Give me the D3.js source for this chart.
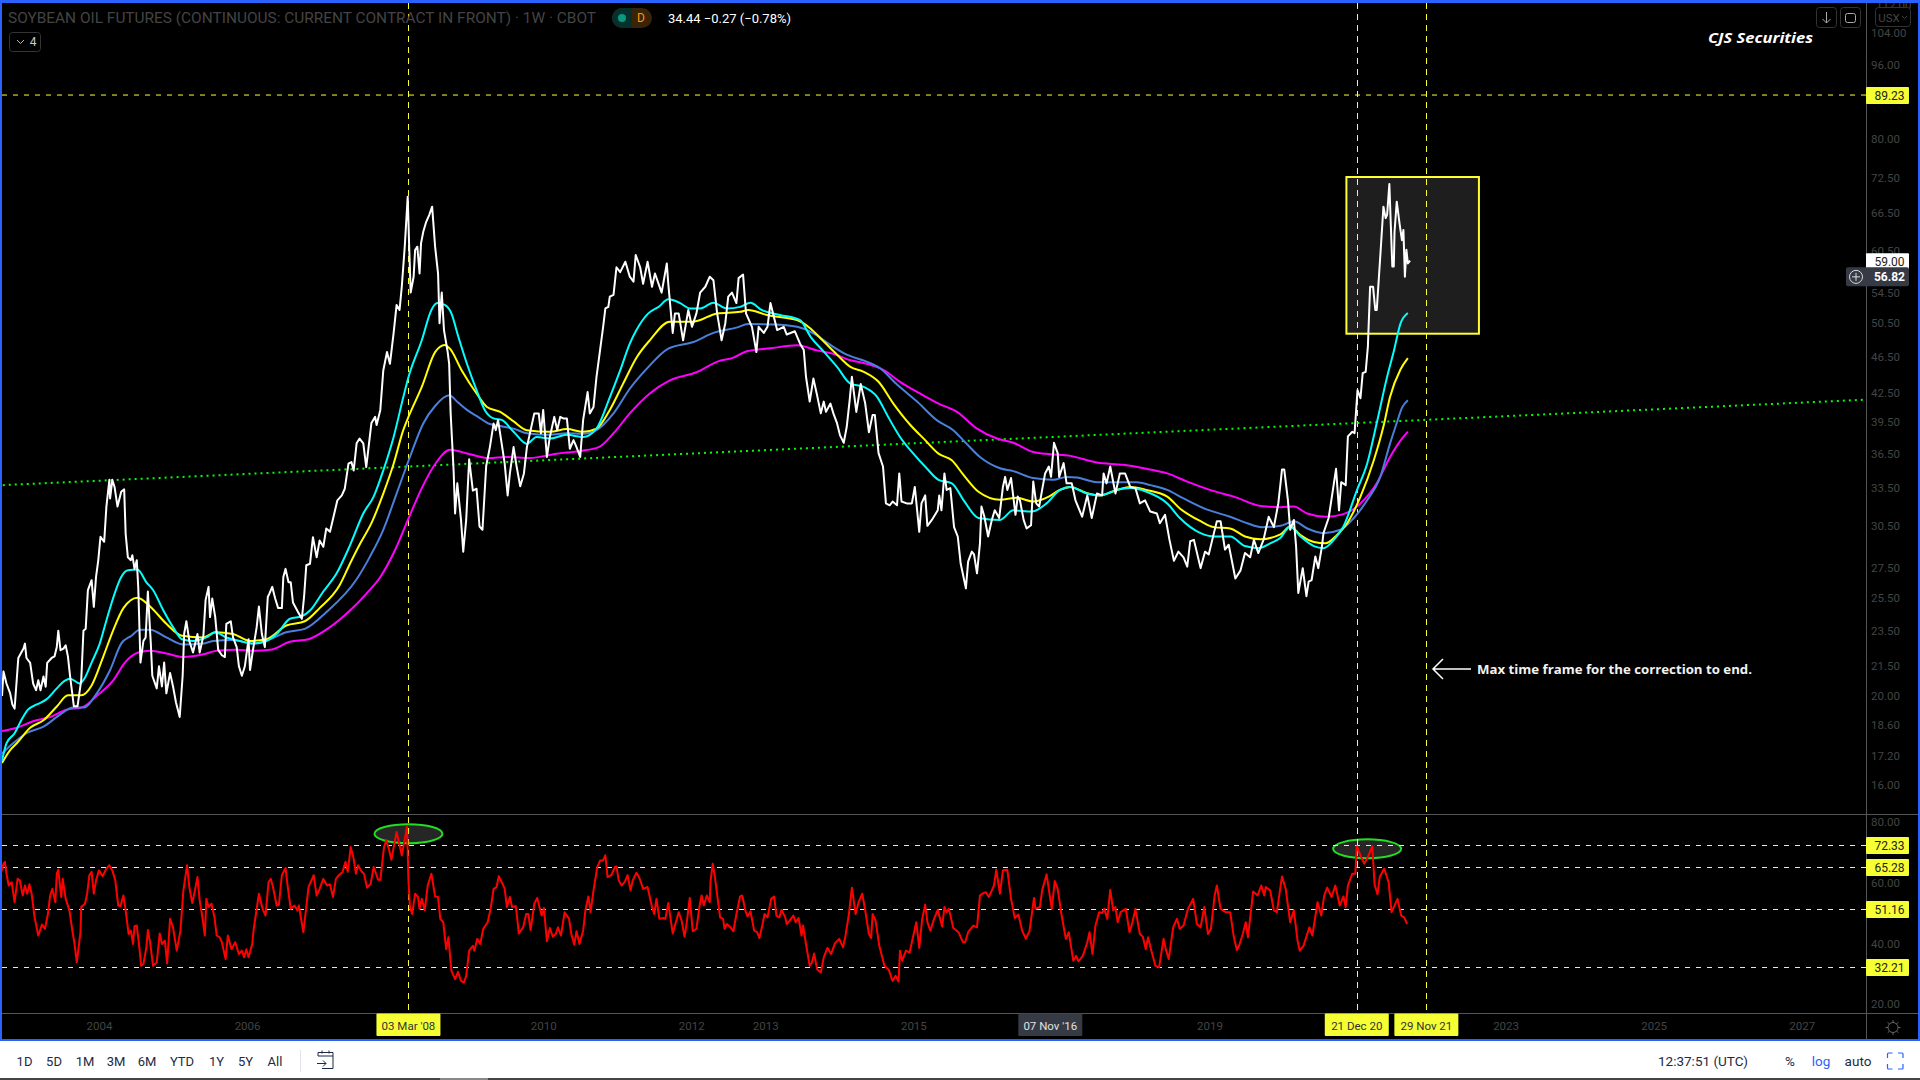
<!DOCTYPE html>
<html>
<head>
<meta charset="utf-8">
<script src="https://cdn.jsdelivr.net/npm/d3@7"></script>
<style>
  html, body { margin: 0; padding: 0; background: #000; overflow: hidden; }
  svg { display: block; }
  text { font-family: Roboto, sans-serif; }
</style>
</head>
<body>
<div id="chart"></div>
<script>
// [year, price] read from the weekly close
const closeSeries = [[2002.69,19.97],[2002.71,21.23],[2002.75,20.6],[2002.8,20.1],[2002.83,19.55],[2002.86,19.35],[2002.91,21.95],[2002.98,22.47],[2003,22.75],[2003.02,21.95],[2003.07,21.68],[2003.11,20.6],[2003.15,20.26],[2003.18,20.77],[2003.21,20.26],[2003.25,20.96],[2003.28,20.43],[2003.3,21.68],[2003.36,21.95],[2003.4,22.04],[2003.43,22.56],[2003.45,23.49],[2003.48,22.38],[2003.52,22.47],[2003.55,22.65],[2003.58,22.04],[2003.61,20.96],[2003.66,19.47],[2003.71,19.47],[2003.76,20.77],[2003.79,23.49],[2003.82,23.6],[2003.85,25.99],[2003.9,26.64],[2003.93,24.93],[2003.96,26.86],[2003.99,27.99],[2004.02,29.68],[2004.07,29.31],[2004.1,32],[2004.14,34.2],[2004.15,32.65],[2004.18,34.2],[2004.21,33.6],[2004.25,32],[2004.3,33.2],[2004.34,33.4],[2004.36,29.9],[2004.39,28.2],[2004.43,28],[2004.45,28.35],[2004.48,27.4],[2004.51,28],[2004.53,26.2],[2004.56,21.7],[2004.6,22.9],[2004.63,23.1],[2004.66,25.9],[2004.7,22.75],[2004.72,21],[2004.78,20.35],[2004.81,21.5],[2004.85,20.45],[2004.88,21.7],[2004.91,20.1],[2004.96,21.15],[2005,20.45],[2005.04,19.65],[2005.09,18.95],[2005.13,21],[2005.15,23.3],[2005.18,24.05],[2005.22,22.9],[2005.27,22.25],[2005.33,23.3],[2005.36,22.25],[2005.41,23.2],[2005.44,25.35],[2005.48,26.2],[2005.5,24.3],[2005.53,25.45],[2005.57,24.3],[2005.61,22.4],[2005.66,22.1],[2005.7,22],[2005.72,23.9],[2005.78,24.05],[2005.81,23.1],[2005.86,22.55],[2005.89,21.5],[2005.93,21],[2005.97,21.5],[2006.02,23],[2006.04,21.3],[2006.08,22.4],[2006.13,23.7],[2006.16,24.95],[2006.2,23.3],[2006.24,22.55],[2006.28,25.55],[2006.3,25.75],[2006.34,26.2],[2006.38,25.45],[2006.42,24.85],[2006.47,24.85],[2006.49,26.85],[2006.52,27.4],[2006.56,26.5],[2006.59,26.5],[2006.62,25.2],[2006.69,24.6],[2006.74,24.2],[2006.77,25.55],[2006.8,27.65],[2006.85,27.75],[2006.89,29.65],[2006.94,28.2],[2006.98,29.4],[2007.03,28.95],[2007.07,30.3],[2007.12,30.05],[2007.16,31],[2007.22,32.5],[2007.28,32.9],[2007.32,33.45],[2007.37,35.6],[2007.41,35.75],[2007.44,35],[2007.48,37.45],[2007.52,37.9],[2007.57,37.45],[2007.61,35.3],[2007.68,39.4],[2007.73,40],[2007.75,39.2],[2007.8,40.7],[2007.84,44.9],[2007.89,47],[2007.93,45.65],[2007.98,49.3],[2008.02,52.85],[2008.06,52.2],[2008.09,55.3],[2008.13,61.1],[2008.17,69.2],[2008.19,61.1],[2008.21,54.5],[2008.25,56.7],[2008.27,60.6],[2008.3,61.1],[2008.33,57.15],[2008.35,61.6],[2008.38,63.4],[2008.42,65],[2008.46,66.1],[2008.5,67.5],[2008.54,61.1],[2008.58,57.15],[2008.6,50.5],[2008.63,54.5],[2008.66,49.65],[2008.71,47],[2008.73,45.65],[2008.75,40.35],[2008.79,35],[2008.81,31.45],[2008.84,33.9],[2008.89,30.95],[2008.92,28.6],[2008.96,30.95],[2009,36],[2009.05,33.3],[2009.1,33.45],[2009.14,30.45],[2009.18,30.2],[2009.23,35.4],[2009.28,37.1],[2009.33,39.35],[2009.36,38.7],[2009.39,39.7],[2009.44,37.4],[2009.48,35.6],[2009.52,32.9],[2009.55,34.75],[2009.6,37.1],[2009.64,35.4],[2009.69,33.65],[2009.74,34.75],[2009.78,37.1],[2009.85,39.35],[2009.88,40.35],[2009.94,40.35],[2009.97,38.4],[2010,40.7],[2010.05,36.2],[2010.09,38.05],[2010.15,40],[2010.19,38.7],[2010.23,40],[2010.27,39.85],[2010.32,39.85],[2010.36,36.95],[2010.41,37.75],[2010.45,37.1],[2010.5,36.2],[2010.54,39.7],[2010.6,42.55],[2010.63,40.35],[2010.68,41],[2010.72,44.15],[2010.78,48],[2010.81,50.05],[2010.84,52.4],[2010.88,52.6],[2010.9,53.95],[2010.95,54.2],[2010.99,58.05],[2011.04,57.35],[2011.11,58.85],[2011.17,56.7],[2011.22,56],[2011.25,59.85],[2011.31,58.05],[2011.35,55.7],[2011.41,58.85],[2011.47,55.3],[2011.51,57.15],[2011.6,54.5],[2011.67,58.6],[2011.69,55.7],[2011.75,49.3],[2011.78,51.75],[2011.83,51.75],[2011.89,48.4],[2011.96,52.2],[2012.01,50.05],[2012.07,51.75],[2012.12,54.5],[2012.19,55.3],[2012.25,56.7],[2012.3,56.2],[2012.35,51.75],[2012.41,48.4],[2012.46,50.5],[2012.5,53.95],[2012.55,54.5],[2012.61,53.1],[2012.64,56.5],[2012.7,57],[2012.74,51.75],[2012.82,50.05],[2012.88,47],[2012.91,50.05],[2012.98,49.3],[2013.03,50.05],[2013.07,53.1],[2013.16,49.65],[2013.25,50.05],[2013.29,49.1],[2013.4,49.5],[2013.47,48],[2013.52,47.25],[2013.55,44.2],[2013.6,41.55],[2013.65,44],[2013.7,42.2],[2013.75,40.35],[2013.79,41.55],[2013.82,40.5],[2013.88,41.35],[2013.92,40.35],[2013.97,39.35],[2014.01,38.2],[2014.06,37.5],[2014.1,39],[2014.14,41.7],[2014.17,44.2],[2014.23,40.5],[2014.29,43.4],[2014.35,41.35],[2014.4,38.5],[2014.45,40.2],[2014.48,40.2],[2014.53,36.55],[2014.59,35.35],[2014.63,32.25],[2014.68,32.1],[2014.72,32.4],[2014.78,32.1],[2014.81,34.75],[2014.84,32.4],[2014.91,32.25],[2014.98,32.25],[2015.02,33.6],[2015.08,30.05],[2015.11,32.25],[2015.16,32.9],[2015.19,30.5],[2015.25,30.95],[2015.33,31.7],[2015.35,32.9],[2015.38,31.7],[2015.42,34.75],[2015.45,33.35],[2015.5,33.5],[2015.55,30.4],[2015.6,29.7],[2015.64,27.75],[2015.71,26.1],[2015.74,27.9],[2015.79,28.6],[2015.82,28.4],[2015.86,27.1],[2015.9,29.2],[2015.92,32],[2015.96,31.2],[2016.01,29.7],[2016.06,30.95],[2016.1,31.7],[2016.16,31.1],[2016.21,33.6],[2016.24,34.45],[2016.27,33.35],[2016.32,34.35],[2016.38,31.35],[2016.41,32.8],[2016.44,32.5],[2016.49,30.95],[2016.53,30.3],[2016.59,30.55],[2016.62,34.05],[2016.66,32.25],[2016.7,32],[2016.74,33.35],[2016.78,34.75],[2016.83,35.35],[2016.86,34.45],[2016.9,37.5],[2016.95,36.55],[2016.97,34.45],[2017.03,35.65],[2017.07,33.9],[2017.14,33.9],[2017.19,32.5],[2017.28,31.2],[2017.35,32.9],[2017.41,31.1],[2017.48,33.05],[2017.55,32.9],[2017.57,34.75],[2017.61,33.9],[2017.66,35.35],[2017.73,33.05],[2017.79,34.75],[2017.86,34.75],[2017.93,33.6],[2018,33.5],[2018.06,32.25],[2018.13,32.5],[2018.2,31.6],[2018.29,31.45],[2018.33,30.7],[2018.4,31.35],[2018.46,29.45],[2018.52,27.95],[2018.58,28.6],[2018.65,28.2],[2018.7,27.55],[2018.74,29.35],[2018.79,29.45],[2018.88,27.45],[2018.94,28.6],[2018.99,28.4],[2019.06,29.95],[2019.1,30.85],[2019.15,30.85],[2019.21,28.75],[2019.26,29.1],[2019.35,26.75],[2019.42,27.3],[2019.48,28.5],[2019.55,28.2],[2019.6,29.45],[2019.66,28.5],[2019.73,29.45],[2019.8,31.2],[2019.87,30.4],[2019.93,32.25],[2019.96,33.9],[2019.98,35.1],[2020.01,35.1],[2020.06,32.5],[2020.09,30.2],[2020.14,30.95],[2020.17,29],[2020.2,25.8],[2020.26,27.45],[2020.31,25.6],[2020.34,26.55],[2020.38,26.65],[2020.43,28.25],[2020.47,27.45],[2020.52,29],[2020.54,29.95],[2020.61,31.1],[2020.66,33.05],[2020.71,35.15],[2020.75,31.7],[2020.78,34],[2020.84,33.75],[2020.87,38.1],[2020.93,38.55],[2020.96,38.4],[2021,42.75],[2021.04,41.9],[2021.07,44.6],[2021.11,44.75],[2021.14,47.65],[2021.17,55.3],[2021.21,55.3],[2021.24,52.2],[2021.26,52.2],[2021.31,60.1],[2021.35,67.5],[2021.38,65.6],[2021.4,66.15],[2021.43,71.4],[2021.47,58.15],[2021.49,58.15],[2021.5,63.4],[2021.53,68.35],[2021.57,64.5],[2021.6,62.1],[2021.62,63.7],[2021.64,56.7],[2021.66,60.65],[2021.68,58.6],[2021.71,59]];

const cyanAverage = [[2002.69,17],[2002.75,17.75],[2002.86,18.2],[2002.95,18.8],[2003.04,19.3],[2003.16,19.55],[2003.29,19.8],[2003.43,20.35],[2003.54,20.75],[2003.61,20.85],[2003.74,20.6],[2003.81,20.9],[2003.9,21.7],[2004.01,22.75],[2004.1,24.1],[2004.21,25.75],[2004.3,26.85],[2004.39,27.3],[2004.52,27.35],[2004.64,26.5],[2004.73,26],[2004.87,24.7],[2005,23.7],[2005.12,23],[2005.27,22.9],[2005.45,23.1],[2005.57,23.4],[2005.72,23.1],[2005.9,22.9],[2006.08,22.75],[2006.26,22.9],[2006.4,23.3],[2006.58,24.2],[2006.74,24.35],[2006.85,24.7],[2007.03,25.9],[2007.21,27.1],[2007.39,29.05],[2007.57,31.45],[2007.71,32.8],[2007.84,35],[2007.98,38.05],[2008.11,42],[2008.18,44.15],[2008.36,48.4],[2008.49,52.2],[2008.57,53.1],[2008.67,52.85],[2008.76,51.75],[2008.85,48.95],[2008.97,45.65],[2009.1,42.75],[2009.21,40.7],[2009.33,39.85],[2009.44,39.7],[2009.6,38.55],[2009.78,37.4],[2009.91,38.05],[2010.09,37.9],[2010.32,38.25],[2010.54,38.05],[2010.72,38.85],[2010.9,42],[2011.04,44.9],[2011.17,48],[2011.26,49.65],[2011.42,51.75],[2011.56,52.6],[2011.69,53.6],[2011.85,53.1],[2011.98,52.4],[2012.12,52.4],[2012.3,53.15],[2012.48,52.4],[2012.66,52.6],[2012.8,53.15],[2012.95,52.2],[2013.2,51.55],[2013.47,50.9],[2013.61,48.85],[2013.79,47.05],[2013.97,45.3],[2014.15,43.45],[2014.33,43.1],[2014.51,42.05],[2014.66,40],[2014.82,38.05],[2015,36.5],[2015.18,35.2],[2015.34,34.2],[2015.52,33.9],[2015.68,32.5],[2015.88,31.1],[2016.17,30.95],[2016.35,31.7],[2016.6,31.6],[2016.8,32.25],[2016.98,33.35],[2017.12,33.6],[2017.34,33.05],[2017.52,32.9],[2017.75,33.35],[2017.93,33.5],[2018.15,33.2],[2018.43,32.25],[2018.6,31.1],[2018.88,29.95],[2019.06,29.7],[2019.28,29.7],[2019.48,29],[2019.66,28.85],[2019.82,29.2],[2019.96,29.6],[2020.09,30.45],[2020.23,29.7],[2020.41,29],[2020.54,28.85],[2020.68,29.45],[2020.81,30.45],[2020.99,33.3],[2021.13,35.6],[2021.26,39.4],[2021.4,44.2],[2021.49,47.1],[2021.58,50.45],[2021.68,51.8]];

const yellowAverage = [[2002.69,16.9],[2002.8,17.45],[2002.89,17.75],[2003.07,18.45],[2003.25,18.8],[2003.43,19.45],[2003.58,20],[2003.76,20],[2003.9,20.5],[2004.06,22.05],[2004.19,23.5],[2004.33,24.85],[2004.52,25.5],[2004.69,24.95],[2004.91,23.9],[2005.12,23.2],[2005.41,23.1],[2005.57,23.4],[2005.81,23.3],[2006.04,22.9],[2006.26,23],[2006.53,23.8],[2006.78,24.05],[2006.98,24.85],[2007.25,26.3],[2007.39,27.75],[2007.53,29.2],[2007.68,30.7],[2007.84,33.05],[2007.98,35.6],[2008.11,38.7],[2008.18,40],[2008.36,43.1],[2008.54,47],[2008.67,47.85],[2008.74,47.4],[2008.9,44.9],[2009.1,42.4],[2009.24,41],[2009.42,40.5],[2009.6,39.55],[2009.78,38.7],[2010.09,38.55],[2010.32,38.8],[2010.54,38.55],[2010.72,38.85],[2010.9,40.7],[2011.08,43.45],[2011.26,46.35],[2011.44,48.4],[2011.71,50.7],[2012.03,50.7],[2012.35,51.75],[2012.66,51.95],[2012.77,52.2],[2013.02,51.55],[2013.43,50.9],[2013.61,49.85],[2013.79,48.25],[2013.97,46.7],[2014.15,45.3],[2014.33,44.75],[2014.53,43.65],[2014.73,41.35],[2014.96,39.2],[2015.16,37.75],[2015.34,36.5],[2015.52,35.9],[2015.68,34.6],[2015.88,33.2],[2016.17,32.55],[2016.4,32.7],[2016.62,32.4],[2016.83,32.8],[2016.98,33.35],[2017.12,33.6],[2017.34,33.1],[2017.52,32.9],[2017.75,33.35],[2017.93,33.6],[2018.15,33.35],[2018.43,32.8],[2018.6,31.85],[2018.88,30.85],[2019.06,30.4],[2019.28,30.3],[2019.48,29.7],[2019.69,29.5],[2019.96,29.85],[2020.09,30.45],[2020.23,29.8],[2020.41,29.3],[2020.57,29.2],[2020.72,29.8],[2020.86,30.7],[2021.04,32.8],[2021.22,35.9],[2021.35,39.05],[2021.44,42.05],[2021.58,45],[2021.68,46.3]];

const blueAverage = [[2002.69,17.3],[2002.84,17.75],[2003.02,18.2],[2003.25,18.5],[2003.47,19.05],[2003.65,19.4],[2003.79,19.4],[2003.97,20.1],[2004.15,21.3],[2004.3,22.75],[2004.44,23.2],[2004.55,23.55],[2004.69,23.55],[2004.91,23.1],[2005.14,22.7],[2005.41,22.75],[2005.54,22.9],[2005.81,22.95],[2006.08,22.75],[2006.31,23],[2006.53,23.4],[2006.78,23.6],[2007.07,24.6],[2007.48,26.7],[2007.66,28.25],[2007.84,30.2],[2008.02,33.05],[2008.2,36.2],[2008.38,39.35],[2008.54,41.1],[2008.73,42.2],[2008.85,41.45],[2008.97,40.7],[2009.12,40],[2009.26,39.35],[2009.42,39.1],[2009.6,38.85],[2009.78,38.4],[2010.09,38.25],[2010.32,38.4],[2010.54,38.35],[2010.72,38.7],[2010.95,40.35],[2011.17,42.9],[2011.4,45.1],[2011.69,47.4],[2012.03,48.2],[2012.3,49.3],[2012.61,49.95],[2012.77,50.4],[2013.11,50.35],[2013.43,50.05],[2013.65,49.25],[2013.88,47.85],[2014.1,46.7],[2014.37,45.9],[2014.55,45.15],[2014.78,43.35],[2015.05,41.55],[2015.32,39.65],[2015.54,38.7],[2015.72,37.4],[2015.9,36.2],[2016.17,35.2],[2016.35,34.95],[2016.62,34.35],[2016.89,34.2],[2017.07,34.45],[2017.21,34.4],[2017.48,34],[2017.75,34],[2018.02,34],[2018.2,33.75],[2018.43,33.35],[2018.65,32.65],[2018.97,31.75],[2019.28,31.2],[2019.51,30.7],[2019.71,30.4],[2019.96,30.5],[2020.14,30.85],[2020.32,30.3],[2020.54,29.95],[2020.77,30.2],[2020.95,31.1],[2021.13,32.5],[2021.31,34.5],[2021.44,37.45],[2021.53,39.4],[2021.6,40.9],[2021.68,41.7]];

const magentaAverage = [[2002.69,18.3],[2002.89,18.45],[2003.11,18.75],[2003.34,18.95],[2003.56,19.3],[2003.76,19.4],[2004.01,20.1],[2004.19,20.75],[2004.35,21.7],[2004.53,22.25],[2004.69,22.35],[2004.91,22.2],[2005.14,22],[2005.41,22.15],[2005.59,22.35],[2005.86,22.4],[2006.08,22.35],[2006.31,22.4],[2006.58,22.85],[2006.83,23],[2007.12,23.7],[2007.39,24.7],[2007.61,25.75],[2007.8,26.85],[2007.98,28.5],[2008.18,31.05],[2008.36,33.5],[2008.56,35.75],[2008.74,36.85],[2009.01,36.45],[2009.26,36.1],[2009.51,36.2],[2009.82,36.1],[2010.18,36.5],[2010.5,36.75],[2010.75,37.1],[2010.95,38.4],[2011.17,40.35],[2011.44,42.4],[2011.71,43.8],[2012.07,44.7],[2012.37,45.95],[2012.57,46.35],[2012.75,47.1],[2013.07,47.45],[2013.43,47.8],[2013.7,47.2],[2013.92,46.8],[2014.15,46.05],[2014.37,45.65],[2014.6,44.95],[2014.82,43.65],[2015.09,42.4],[2015.34,41.35],[2015.59,40.5],[2015.86,38.85],[2016.13,37.9],[2016.35,37.5],[2016.62,36.65],[2016.85,36.45],[2017.12,36.3],[2017.48,35.7],[2017.84,35.5],[2018.15,35.15],[2018.43,34.75],[2018.7,34.05],[2019.06,33.25],[2019.33,32.8],[2019.69,32.05],[2019.96,31.95],[2020.14,32],[2020.32,31.45],[2020.57,31.2],[2020.81,31.4],[2021.04,32.25],[2021.26,33.9],[2021.44,36.2],[2021.58,37.7],[2021.68,38.55]];

const rsiSeries = [[2002.68,63.6],[2002.71,66.3],[2002.73,66.9],[2002.75,63],[2002.78,59.1],[2002.82,60.2],[2002.86,53.6],[2002.9,61.3],[2002.93,60.8],[2002.97,55.8],[2003,59.1],[2003.03,56.4],[2003.06,59.5],[2003.09,56.4],[2003.13,48.6],[2003.18,42.6],[2003.23,46.2],[2003.27,44.8],[2003.31,49.7],[2003.34,55.8],[2003.37,58],[2003.41,53.6],[2003.43,63],[2003.45,64.3],[2003.49,55.3],[2003.51,61.3],[2003.55,54.7],[2003.6,50.9],[2003.64,44.2],[2003.67,39.8],[2003.7,33.7],[2003.75,43.7],[2003.76,52],[2003.81,53.1],[2003.84,56.4],[2003.87,62.5],[2003.9,63.6],[2003.93,56.4],[2003.96,60.8],[2004,64.1],[2004.05,62.2],[2004.1,64.7],[2004.14,65.8],[2004.18,64.1],[2004.22,60.8],[2004.26,52.5],[2004.29,52.3],[2004.33,55.8],[2004.36,50.9],[2004.4,43.1],[2004.43,44.2],[2004.46,39.8],[2004.48,45.7],[2004.51,45.9],[2004.54,39.8],[2004.57,32.6],[2004.6,33.2],[2004.64,38.7],[2004.66,44.4],[2004.69,40.4],[2004.73,32.6],[2004.78,33.7],[2004.82,43.3],[2004.85,39.8],[2004.89,40.9],[2004.92,33.4],[2004.96,48.1],[2005,45.3],[2005.05,37.6],[2005.1,44.2],[2005.14,57.5],[2005.19,65.8],[2005.22,58.6],[2005.26,53.3],[2005.3,58],[2005.33,61.9],[2005.36,54.2],[2005.39,49.7],[2005.43,42.6],[2005.45,54.7],[2005.48,52],[2005.52,53.1],[2005.56,48.6],[2005.59,42.6],[2005.63,42],[2005.66,40.4],[2005.71,34.8],[2005.74,42.6],[2005.79,38.1],[2005.84,40.4],[2005.89,36.5],[2005.93,37.6],[2005.96,35.4],[2005.99,38.1],[2006.02,35.4],[2006.07,39.8],[2006.09,44.8],[2006.12,49.7],[2006.16,56.4],[2006.21,51.4],[2006.25,49.2],[2006.29,60.2],[2006.32,61.3],[2006.35,58.6],[2006.4,52.5],[2006.43,52.7],[2006.47,62.5],[2006.52,64.9],[2006.55,58.6],[2006.59,51.4],[2006.64,52.5],[2006.68,50.9],[2006.7,52.5],[2006.76,43.7],[2006.8,52],[2006.83,58.6],[2006.9,62.5],[2006.94,55.8],[2006.98,58],[2007.03,61.3],[2007.08,59.1],[2007.12,59.5],[2007.16,55.3],[2007.2,61.3],[2007.24,62.5],[2007.29,63.6],[2007.33,66.9],[2007.36,63.6],[2007.4,71.8],[2007.44,68],[2007.47,63],[2007.5,65.8],[2007.55,63.6],[2007.58,63],[2007.62,58.4],[2007.67,59.7],[2007.71,65.2],[2007.77,61],[2007.8,61],[2007.85,71.8],[2007.88,74.1],[2007.92,70.7],[2007.95,67.6],[2007.99,73],[2008.02,76.8],[2008.06,72.4],[2008.09,69.1],[2008.12,73],[2008.16,78.5],[2008.18,60.8],[2008.2,52],[2008.23,49.7],[2008.27,56.4],[2008.31,55.3],[2008.33,51.4],[2008.36,54.7],[2008.4,50.9],[2008.44,59.1],[2008.49,63],[2008.54,55.5],[2008.58,55.3],[2008.61,48.1],[2008.65,47],[2008.69,38.1],[2008.72,42],[2008.76,31],[2008.81,28.2],[2008.85,30.6],[2008.89,27.6],[2008.93,27.1],[2008.96,29.3],[2009,37.6],[2009.05,39.2],[2009.07,37.6],[2009.11,41.5],[2009.15,39.8],[2009.19,44.8],[2009.25,47],[2009.29,51.4],[2009.33,58],[2009.37,58.6],[2009.4,62.2],[2009.45,59.7],[2009.48,58],[2009.51,52],[2009.55,55.3],[2009.58,52],[2009.63,52.3],[2009.66,45.9],[2009.67,43.3],[2009.73,45.3],[2009.77,49.7],[2009.8,49.7],[2009.83,44.4],[2009.88,53.1],[2009.92,55],[2009.95,52],[2009.98,49.2],[2010.01,51.7],[2010.05,40.7],[2010.09,45.1],[2010.13,42.2],[2010.17,43.1],[2010.2,45.3],[2010.24,42.6],[2010.29,50.3],[2010.35,48.1],[2010.38,43.1],[2010.42,39.6],[2010.45,44],[2010.49,39.8],[2010.54,44.2],[2010.57,50.9],[2010.61,55.5],[2010.64,50.3],[2010.68,57.5],[2010.73,65.2],[2010.77,67.4],[2010.81,67.4],[2010.84,69.1],[2010.87,61.9],[2010.92,62.5],[2010.97,65.2],[2010.99,65.4],[2011.02,60.8],[2011.06,59.1],[2011.1,60.2],[2011.14,62.5],[2011.18,57.5],[2011.21,60.8],[2011.26,63.3],[2011.3,61.6],[2011.35,58],[2011.41,58.6],[2011.47,52],[2011.5,49.7],[2011.53,54.7],[2011.57,48.1],[2011.62,48.4],[2011.65,48.1],[2011.69,53.3],[2011.75,43.3],[2011.78,45.9],[2011.83,50.3],[2011.87,47.5],[2011.91,42.2],[2011.94,47],[2011.98,55],[2012.02,44],[2012.07,44.8],[2012.11,52],[2012.14,55.8],[2012.17,52.5],[2012.21,55.8],[2012.25,53.6],[2012.26,60.2],[2012.29,66.3],[2012.32,61.9],[2012.36,54.2],[2012.39,48.6],[2012.43,48.1],[2012.45,44.8],[2012.48,46.4],[2012.53,45.3],[2012.57,44],[2012.61,49.7],[2012.66,55.5],[2012.69,55.8],[2012.73,50.9],[2012.76,48.9],[2012.8,50.6],[2012.85,44.2],[2012.89,43.7],[2012.92,41.8],[2012.96,45.9],[2012.99,49.7],[2013.03,48.6],[2013.08,54.7],[2013.12,55.5],[2013.15,49.2],[2013.19,48.6],[2013.22,51.1],[2013.27,48.6],[2013.29,46.4],[2013.33,47.5],[2013.38,49.2],[2013.41,47],[2013.45,48.4],[2013.49,42.6],[2013.51,45.9],[2013.55,39.8],[2013.6,32.6],[2013.63,33.7],[2013.66,36.7],[2013.7,31.5],[2013.75,30.4],[2013.79,35.4],[2013.84,38.5],[2013.89,36.5],[2013.94,40],[2014,41.5],[2014.05,38.7],[2014.08,42],[2014.13,49.7],[2014.17,58.4],[2014.22,49.7],[2014.26,53.6],[2014.31,56.4],[2014.35,50.9],[2014.4,43.1],[2014.43,41.8],[2014.45,49.7],[2014.49,47.5],[2014.54,39.2],[2014.61,32.6],[2014.67,31.2],[2014.72,27.6],[2014.76,29.3],[2014.8,27.4],[2014.82,37.6],[2014.85,34.3],[2014.9,37.6],[2014.95,37],[2014.99,41.5],[2015.04,47],[2015.08,38.5],[2015.12,48.1],[2015.16,52.8],[2015.19,47],[2015.23,44.2],[2015.28,48.1],[2015.33,51.1],[2015.39,45.5],[2015.42,52],[2015.45,50.3],[2015.48,51.4],[2015.54,45.1],[2015.61,43.7],[2015.67,40.4],[2015.7,40.4],[2015.74,43.7],[2015.81,45.9],[2015.86,45.3],[2015.9,55.8],[2015.93,56.4],[2015.98,56.9],[2016.02,55.3],[2016.09,59.1],[2016.12,64.3],[2016.17,56.4],[2016.21,64.1],[2016.27,64.3],[2016.32,54.7],[2016.37,48.4],[2016.42,49.5],[2016.47,44.2],[2016.52,41.5],[2016.57,44.2],[2016.63,55],[2016.65,51.4],[2016.71,52],[2016.74,57.5],[2016.8,62.8],[2016.87,51.4],[2016.91,60.6],[2016.95,58],[2017,49.7],[2017.06,41.5],[2017.1,43.7],[2017.16,34.3],[2017.2,35.9],[2017.23,34.1],[2017.29,35.9],[2017.35,40.4],[2017.38,43.7],[2017.42,36.5],[2017.46,45.9],[2017.51,50.3],[2017.55,50],[2017.58,51.4],[2017.62,48.1],[2017.66,57.7],[2017.7,50.9],[2017.73,52],[2017.76,47],[2017.8,50.3],[2017.87,51.4],[2017.92,43.7],[2017.96,47],[2018,51.4],[2018.06,43.1],[2018.1,42.2],[2018.14,38.1],[2018.17,42],[2018.21,38.1],[2018.27,32.6],[2018.32,32.1],[2018.38,41.5],[2018.41,38.1],[2018.45,34.8],[2018.51,45.3],[2018.56,48.1],[2018.6,44.8],[2018.65,45.9],[2018.71,51.4],[2018.78,54.7],[2018.83,46.4],[2018.88,45.3],[2018.93,52],[2018.98,43.1],[2019.02,44.8],[2019.07,55.8],[2019.1,59.1],[2019.15,51.4],[2019.22,50.3],[2019.28,50.3],[2019.33,42],[2019.37,37.8],[2019.4,39.2],[2019.45,43.1],[2019.49,47],[2019.52,42],[2019.59,57.1],[2019.65,55.8],[2019.7,59.1],[2019.74,55.8],[2019.76,58.6],[2019.82,57.5],[2019.87,50.9],[2019.91,50.3],[2019.98,62.1],[2020.03,58],[2020.09,47],[2020.14,50.9],[2020.19,40.9],[2020.22,37.6],[2020.27,39.2],[2020.35,45.3],[2020.39,42.6],[2020.46,53.6],[2020.51,49.2],[2020.55,55.8],[2020.59,58.4],[2020.65,55.3],[2020.7,59.1],[2020.76,52.5],[2020.81,55.5],[2020.84,52],[2020.87,59.1],[2020.93,63],[2020.97,63],[2020.99,72.1],[2021.05,68.5],[2021.09,66.3],[2021.14,68.5],[2021.2,72.1],[2021.23,59.5],[2021.27,56.2],[2021.3,61.9],[2021.36,64.7],[2021.42,60.2],[2021.46,50.3],[2021.54,54.7],[2021.59,49.2],[2021.63,48.6],[2021.67,46.4]];

const trendLine = [[2002.7, 33.75], [2027.86, 41.75]];
const priceLevel = 89.23;
const rsiLevels = [72.33, 65.28, 51.16, 32.21];
const eventYears = [2008.18, 2020.99, 2021.93];
const eventLabels = ["03 Mar '08", "21 Dec 20", "29 Nov 21"];
const cursorYear = 2016.85;
const cursorLabel = "07 Nov '16";
const priceTicks = [104, 96, 80, 72.5, 66.5, 60.5, 54.5, 50.5, 46.5, 42.5, 39.5, 36.5, 33.5, 30.5, 27.5, 25.5, 23.5, 21.5, 20, 18.6, 17.2, 16];
const rsiTicks = [80, 60, 40, 20];
const yearTicks = [2004, 2006, 2010, 2012, 2013, 2015, 2019, 2023, 2025, 2027];
const rangeButtons = ["1D", "5D", "1M", "3M", "6M", "YTD", "1Y", "5Y", "All"];
const rangeButtonX = [24.5, 54, 85, 116, 147, 182, 216.5, 245.5, 275];

const width = 1920, height = 1080;
const axisX = 1866, paneBottom = 814.5, timeAxisY = 1013.5, toolbarY = 1041;
const flagYellow = "#f5ff33", dashYellow = "#ffff33", axisText = "#444", frameBlue = "#2962ff";

const x = d3.scaleLinear().domain([2004, 2027]).range([99, 1801.7]);
const y = d3.scaleLog().domain([104, 16]).range([33, 785]);
const rsiY = d3.scaleLinear().domain([80, 20]).range([822.2, 1004]);

const svg = d3.select("#chart").append("svg").attr("width", width).attr("height", height);

svg.append("rect").attr("width", width).attr("height", height).attr("fill", "#000");

// correction window and the two RSI ellipses sit under the lines
svg.append("rect")
    .attr("x", x(2020.85)).attr("y", y(72.67))
    .attr("width", x(2022.64) - x(2020.85)).attr("height", y(49.2) - y(72.67))
    .attr("fill", "#1e1e1e").attr("stroke", dashYellow).attr("stroke-width", 2);

[[2008.18, 76.2], [2021.13, 71.2]].forEach(e => {
    svg.append("ellipse")
        .attr("cx", x(e[0])).attr("cy", rsiY(e[1]))
        .attr("rx", 34).attr("ry", 9.5)
        .attr("fill", "#262626").attr("stroke", "#22dd22").attr("stroke-width", 2);
});

// dashed levels
const levelRow = v => Math.round(rsiY(v) - 0.3) + 0.5;
svg.append("line")
    .attr("x1", 2).attr("x2", axisX).attr("y1", y(priceLevel) + 0.5).attr("y2", y(priceLevel) + 0.5)
    .attr("stroke", dashYellow).attr("stroke-dasharray", "5,6");

svg.selectAll(".rsi-level").data(rsiLevels).enter().append("line")
    .attr("class", "rsi-level")
    .attr("x1", 2).attr("x2", axisX)
    .attr("y1", d => levelRow(d)).attr("y2", d => levelRow(d))
    .attr("stroke", dashYellow).attr("stroke-dasharray", "5,6");

svg.selectAll(".event-line").data(eventYears).enter().append("line")
    .attr("class", "event-line")
    .attr("x1", d => Math.round(x(d)) + 0.5).attr("x2", d => Math.round(x(d)) + 0.5)
    .attr("y1", 3).attr("y2", timeAxisY)
    .attr("stroke", dashYellow).attr("stroke-dasharray", "6,5");

const trend = d3.line().x(d => x(d[0])).y(d => y(d[1]));
svg.append("path").datum(trendLine)
    .attr("d", trend).attr("fill", "none")
    .attr("stroke", "#00ff00").attr("stroke-width", 2).attr("stroke-dasharray", "2,4");

// moving averages then the close
const smooth = d3.line().x(d => x(d[0])).y(d => y(d[1])).curve(d3.curveMonotoneX);
const maLines = [
    { data: magentaAverage, color: "#ff00ff" },
    { data: blueAverage, color: "#4a80dc" },
    { data: yellowAverage, color: "#ffff00" },
    { data: cyanAverage, color: "#00ffff" }
];
maLines.forEach(m => {
    svg.append("path").datum(m.data)
        .attr("d", smooth).attr("fill", "none")
        .attr("stroke", m.color).attr("stroke-width", 2);
});

svg.append("path").datum(closeSeries)
    .attr("d", trend).attr("fill", "none")
    .attr("stroke", "#fff").attr("stroke-width", 2).attr("stroke-linejoin", "round");

const rsiLine = d3.line().x(d => x(d[0])).y(d => rsiY(d[1]));
svg.append("path").datum(rsiSeries)
    .attr("d", rsiLine).attr("fill", "none")
    .attr("stroke", "#ff0000").attr("stroke-width", 2).attr("stroke-linejoin", "round");

// pane borders
[paneBottom, timeAxisY].forEach(v => {
    svg.append("line").attr("x1", 2).attr("x2", 1918).attr("y1", v).attr("y2", v).attr("stroke", "#555");
});
svg.append("line").attr("x1", axisX + 0.5).attr("x2", axisX + 0.5).attr("y1", 3).attr("y2", 1039).attr("stroke", "#555");

// axes
function styleAxis(g) {
    g.select(".domain").remove();
    g.selectAll("line").remove();
    g.selectAll("text").attr("fill", axisText).attr("font-size", 11.5).attr("font-family", "Roboto, sans-serif");
}
svg.append("g")
    .attr("transform", `translate(${axisX + 2},0)`)
    .call(d3.axisRight(y).tickValues(priceTicks).tickSize(0).tickFormat(d3.format(".2f")))
    .call(styleAxis);
svg.append("g")
    .attr("transform", `translate(${axisX + 2},0)`)
    .call(d3.axisRight(rsiY).tickValues(rsiTicks).tickSize(0).tickFormat(d3.format(".2f")))
    .call(styleAxis);
svg.append("g")
    .attr("transform", `translate(0,${timeAxisY + 5})`)
    .call(d3.axisBottom(x).tickValues(yearTicks).tickSize(0).tickFormat(d3.format("d")))
    .call(styleAxis);
svg.append("text").attr("x", axisX + 10).attr("y", 9).attr("font-size", 11.5).attr("fill", axisText).text("112.00");

function textAt(parent, tx, ty, str, opts) {
    opts = opts || {};
    return parent.append("text")
        .attr("x", tx).attr("y", ty)
        .attr("dy", "0.35em")
        .attr("text-anchor", opts.anchor || "middle")
        .attr("font-size", opts.size || 11.5)
        .attr("font-weight", opts.weight || "normal")
        .attr("font-style", opts.style || "normal")
        .attr("fill", opts.fill || "#222")
        .text(str);
}

// price flags
function priceFlag(cy, label, bg, fg, weight) {
    svg.append("rect").attr("x", axisX).attr("y", cy - 8.5).attr("width", 43).attr("height", 17).attr("rx", 1).attr("fill", bg);
    textAt(svg, axisX + 23.5, cy, label, { fill: fg, size: 12, weight: weight });
}
priceFlag(y(priceLevel) + 1, d3.format(".2f")(priceLevel), flagYellow, "#222");
rsiLevels.forEach(l => priceFlag(levelRow(l), d3.format(".2f")(l), flagYellow, "#222"));
priceFlag(y(59) + 1, "59.00", "#fff", "#222");
const lastY = y(56.82) + 1;
svg.append("rect").attr("x", axisX - 20).attr("y", lastY - 9.5).attr("width", 63).attr("height", 19).attr("rx", 2).attr("fill", "#363a45");
textAt(svg, axisX + 23.5, lastY, "56.82", { fill: "#fff", size: 12, weight: "bold" });
svg.append("circle").attr("cx", axisX - 10).attr("cy", lastY).attr("r", 6.5).attr("fill", "none").attr("stroke", "#ddd");
svg.append("path").attr("d", d3.line()([[axisX - 14, lastY], [axisX - 6, lastY]])).attr("stroke", "#ddd");
svg.append("path").attr("d", d3.line()([[axisX - 10, lastY - 4], [axisX - 10, lastY + 4]])).attr("stroke", "#ddd");

// time flags
function timeFlag(year, label, bg, fg) {
    svg.append("rect").attr("x", x(year) - 32).attr("y", timeAxisY).attr("width", 64).attr("height", 22.5).attr("rx", 1).attr("fill", bg);
    textAt(svg, x(year), timeAxisY + 12, label, { fill: fg, size: 11.5 });
}
eventYears.forEach((yr, i) => timeFlag(yr, eventLabels[i], flagYellow, "#333"));
timeFlag(cursorYear, cursorLabel, "#363a45", "#e0e0e0");

// header
textAt(svg, 8, 18, "SOYBEAN OIL FUTURES (CONTINUOUS: CURRENT CONTRACT IN FRONT) · 1W · CBOT", { anchor: "start", size: 14, fill: "#444" })
    .attr("textLength", 588).attr("lengthAdjust", "spacingAndGlyphs");
svg.append("rect").attr("x", 612).attr("y", 8).attr("width", 40).attr("height", 20).attr("rx", 10).attr("fill", "#3a2408");
svg.append("path").attr("d", "M632 8H622a10 10 0 0 0 0 20h10z").attr("fill", "#06302c");
svg.append("circle").attr("cx", 622).attr("cy", 18).attr("r", 4).attr("fill", "#089981");
textAt(svg, 641, 18, "D", { size: 12, fill: "#ff9800" });
textAt(svg, 668, 18, "34.44 −0.27 (−0.78%)", { anchor: "start", size: 13, fill: "#fff" })
    .attr("textLength", 123).attr("lengthAdjust", "spacingAndGlyphs");
svg.append("rect").attr("x", 9.5).attr("y", 32.5).attr("width", 31).attr("height", 19).attr("rx", 3).attr("fill", "none").attr("stroke", "#333");
svg.append("path").attr("d", "M17 40l3.5 3.5 3.5-3.5").attr("fill", "none").attr("stroke", "#bbb");
textAt(svg, 33, 42, "4", { size: 12, fill: "#ccc" });

// annotations
textAt(svg, 1708, 37.5, "CJS Securities", { anchor: "start", size: 14.5, weight: "bold", style: "italic", fill: "#fff" })
    .attr("font-family", "'Open Sans', sans-serif").style("font-family", "'Open Sans', sans-serif")
    .attr("textLength", 105).attr("lengthAdjust", "spacingAndGlyphs");
svg.append("path").attr("d", "M1471 669H1433M1443 659l-10 10 10 10").attr("fill", "none").attr("stroke", "#fff").attr("stroke-width", 1.5);
textAt(svg, 1477, 669.5, "Max time frame for the correction to end.", { anchor: "start", size: 13, weight: "bold", fill: "#f2f2f2" })
    .style("font-family", "'Open Sans', sans-serif")
    .attr("textLength", 275).attr("lengthAdjust", "spacingAndGlyphs");

// top right buttons
[1816, 1840].forEach(bx => {
    svg.append("rect").attr("x", bx + 0.5).attr("y", 7.5).attr("width", 20).attr("height", 20).attr("rx", 3).attr("fill", "none").attr("stroke", "#333");
});
svg.append("path").attr("d", "M1826.5 12v11M1822.5 19l4 4 4-4").attr("fill", "none").attr("stroke", "#aaa");
svg.append("rect").attr("x", 1845.5).attr("y", 13.5).attr("width", 10).attr("height", 9).attr("rx", 2).attr("fill", "none").attr("stroke", "#aaa");
svg.append("rect").attr("x", 1875.5).attr("y", 7.5).attr("width", 35).attr("height", 19).attr("rx", 3).attr("fill", "#000").attr("stroke", "#333");
textAt(svg, 1889, 17.5, "USX", { size: 11.5, fill: axisText });
svg.append("path").attr("d", "M1902 16l2.5 2.5 2.5-2.5").attr("fill", "none").attr("stroke", axisText);

// gear
svg.append("circle").attr("cx", 1893).attr("cy", 1027.5).attr("r", 5).attr("fill", "none").attr("stroke", "#666");
svg.append("path").attr("d", "M1893 1020v2.5M1893 1032.5v2.5M1885.5 1027.5h2.5M1898 1027.5h2.5M1887.7 1022.2l1.8 1.8M1896.5 1031l1.8 1.8M1887.7 1032.8l1.8-1.8M1896.5 1024l1.8-1.8")
    .attr("stroke", "#666").attr("fill", "none");

// bottom toolbar
svg.append("rect").attr("x", 0).attr("y", toolbarY).attr("width", width).attr("height", 37).attr("fill", "#fff");
svg.append("rect").attr("x", 0).attr("y", 1078).attr("width", width).attr("height", 2).attr("fill", "#444");
svg.append("rect").attr("x", 440).attr("y", 1078).attr("width", 48).attr("height", 2).attr("fill", "#888");
rangeButtons.forEach((b, i) => textAt(svg, rangeButtonX[i], 1061, b, { size: 13, fill: "#1c2a44" }));
svg.append("line").attr("x1", 300.5).attr("x2", 300.5).attr("y1", 1050).attr("y2", 1072).attr("stroke", "#e0e3eb");
svg.append("path").attr("d", "M318 1056v-3.5h15v16h-11M318 1056h15M322 1050.5v3M329 1050.5v3M317 1063.5h9M323 1060.5l3 3-3 3").attr("fill", "none").attr("stroke", "#1c2a44");
textAt(svg, 1703, 1061, "12:37:51 (UTC)", { size: 13.5, fill: "#1c2a44" });
textAt(svg, 1790, 1061, "%", { size: 13.5, fill: "#1c2a44" });
textAt(svg, 1821, 1061, "log", { size: 13.5, fill: frameBlue });
textAt(svg, 1858, 1061, "auto", { size: 13.5, fill: "#1c2a44" });
svg.append("path").attr("d", "M1887.5 1058v-4a1 1 0 0 1 1-1h4M1898 1053h4a1 1 0 0 1 1 1v4M1903 1064v4a1 1 0 0 1-1 1h-4M1892.5 1069h-4a1 1 0 0 1-1-1v-4")
    .attr("fill", "none").attr("stroke", frameBlue).attr("stroke-width", 1.2);

// blue frame
svg.append("rect").attr("x", 0).attr("y", 0).attr("width", width).attr("height", 3).attr("fill", frameBlue);
svg.append("rect").attr("x", 0).attr("y", 0).attr("width", 2).attr("height", toolbarY).attr("fill", frameBlue);
svg.append("rect").attr("x", 1918).attr("y", 0).attr("width", 2).attr("height", toolbarY).attr("fill", frameBlue);
svg.append("rect").attr("x", 0).attr("y", 1039).attr("width", width).attr("height", 2).attr("fill", frameBlue);
</script>
</body>
</html>
